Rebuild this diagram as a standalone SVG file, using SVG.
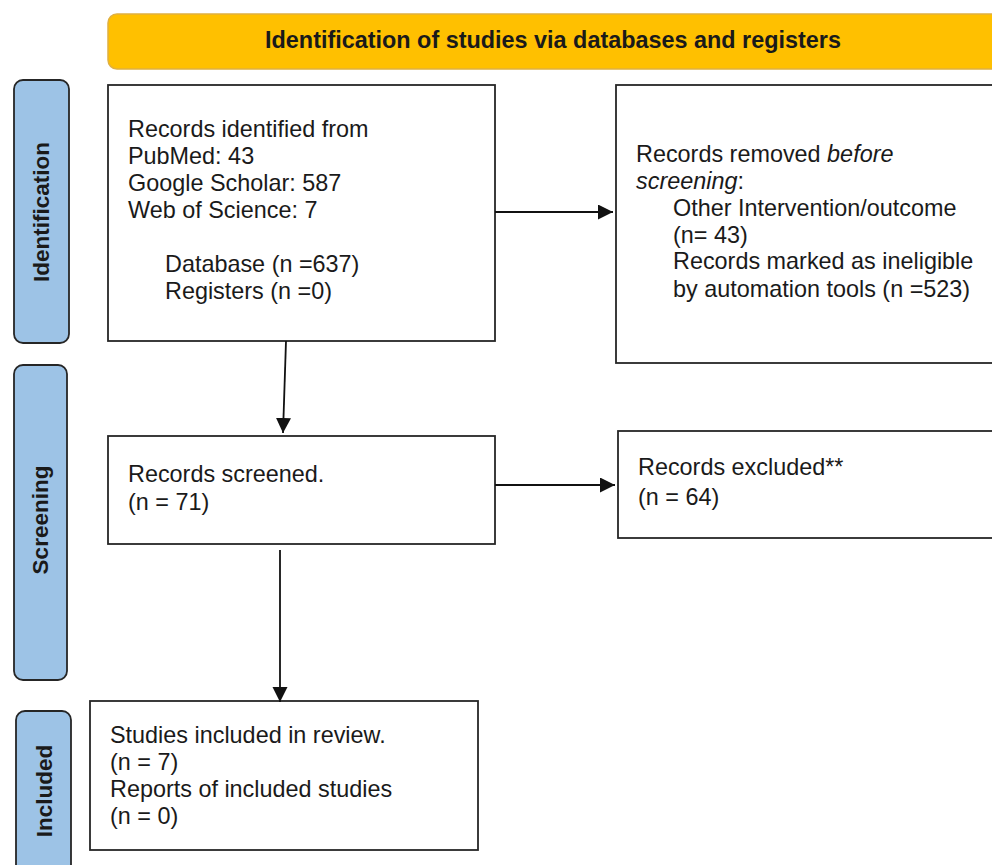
<svg xmlns="http://www.w3.org/2000/svg" width="992" height="865" viewBox="0 0 992 865">
<style>
.box{fill:#fff;stroke:#262626;stroke-width:1.8}
.side{fill:#9DC3E6;stroke:#262626;stroke-width:1.8}
.hdr{fill:#FFC000;stroke:#E0B040;stroke-width:1.5}
.t{font-family:"Liberation Sans",Arial,sans-serif;font-size:23.4px;fill:#1a1a1a}
.h{font-family:"Liberation Sans",Arial,sans-serif;font-size:23.4px;font-weight:bold;fill:#1a1a1a}
.b{font-family:"Liberation Sans",Arial,sans-serif;font-size:22.5px;font-weight:bold;fill:#1a1a1a}
.conn{stroke:#111;stroke-width:1.8;fill:none}
</style>
<defs>
<marker id="ah" markerUnits="userSpaceOnUse" markerWidth="16" markerHeight="16" refX="15" refY="7.5" orient="auto">
<path d="M0,0 L15,7.5 L0,15 Z" fill="#111"/>
</marker>
</defs>
<rect width="992" height="865" fill="#fff"/>
<g id="header">
<rect class="hdr" x="108" y="14" width="910" height="55" rx="9"/>
<text class="h" x="553" y="48" text-anchor="middle">Identification of studies via databases and registers</text>
</g>
<g id="side-identification">
<rect class="side" x="14" y="80" width="55" height="263" rx="9"/>
<text class="b" transform="translate(49,212) rotate(-90)" text-anchor="middle">Identification</text>
</g>
<g id="side-screening">
<rect class="side" x="14" y="365" width="53" height="315" rx="9"/>
<text class="b" transform="translate(48,520) rotate(-90)" text-anchor="middle">Screening</text>
</g>
<g id="side-included">
<rect class="side" x="16" y="711" width="55" height="170" rx="9"/>
<text class="b" transform="translate(52,791) rotate(-90)" text-anchor="middle">Included</text>
</g>
<g id="records-identified">
<rect class="box" x="108" y="85" width="387" height="256"/>
<text class="t" x="128" y="137">Records identified from</text>
<text class="t" x="128" y="164">PubMed: 43</text>
<text class="t" x="128" y="191">Google Scholar: 587</text>
<text class="t" x="128" y="218">Web of Science: 7</text>
<text class="t" x="165" y="272">Database (n =637)</text>
<text class="t" x="165" y="299">Registers (n =0)</text>
</g>
<g id="records-removed">
<rect class="box" x="616" y="85" width="400" height="278"/>
<text class="t" x="636" y="162">Records removed <tspan font-style="italic">before</tspan></text>
<text class="t" x="636" y="189"><tspan font-style="italic">screening</tspan>:</text>
<text class="t" x="673" y="216">Other Intervention/outcome</text>
<text class="t" x="673" y="243">(n= 43)</text>
<text class="t" x="673" y="269">Records marked as ineligible</text>
<text class="t" x="673" y="297">by automation tools (n =523)</text>
</g>
<g id="records-screened">
<rect class="box" x="108" y="436" width="387" height="108"/>
<text class="t" x="128" y="482">Records screened.</text>
<text class="t" x="128" y="510">(n = 71)</text>
</g>
<g id="records-excluded">
<rect class="box" x="618" y="431" width="400" height="107"/>
<text class="t" x="638" y="475">Records excluded**</text>
<text class="t" x="638" y="505">(n = 64)</text>
</g>
<g id="studies-included">
<rect class="box" x="90" y="701" width="388" height="149"/>
<text class="t" x="110" y="743">Studies included in review.</text>
<text class="t" x="110" y="770">(n = 7)</text>
<text class="t" x="110" y="797">Reports of included studies</text>
<text class="t" x="110" y="824">(n = 0)</text>
</g>
<g id="connectors">
<line class="conn" x1="286" y1="341" x2="283" y2="433" marker-end="url(#ah)"/>
<line class="conn" x1="495" y1="212" x2="613" y2="212" marker-end="url(#ah)"/>
<line class="conn" x1="495" y1="485" x2="615" y2="485" marker-end="url(#ah)"/>
<line class="conn" x1="280" y1="550" x2="280" y2="702" marker-end="url(#ah)"/>
</g>
</svg>
